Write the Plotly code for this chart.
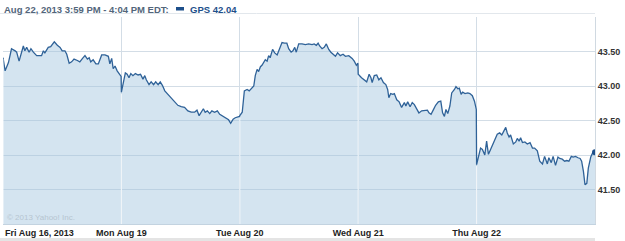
import plotly.graph_objects as go

# ---------------- data ----------------
day_labels = ["Fri Aug 16, 2013", "Mon Aug 19", "Tue Aug 20", "Wed Aug 21", "Thu Aug 22"]
session_minutes = 390
y_ticks = [41.5, 42.0, 42.5, 43.0, 43.5]
y_tick_labels = ["41.50", "42.00", "42.50", "43.00", "43.50"]
header_text = "Aug 22, 2013 3:59 PM - 4:04 PM EDT:"
series_label = "GPS 42.04"
copyright_text = "© 2013 Yahoo! Inc."

fri_minutes = [0, 7, 18, 28, 40, 45, 53, 67, 72, 78, 86, 92, 100, 111, 127, 133, 138, 149, 157, 169,
               179, 188, 195, 204, 210, 218, 226, 234, 245, 253, 262, 270, 278, 284, 289, 297, 306, 314,
               325, 336, 347, 352, 358, 363, 369, 376, 389]
fri_prices = [43.41, 43.22, 43.34, 43.54, 43.51, 43.49, 43.36, 43.58, 43.51, 43.56, 43.49, 43.54, 43.49,
              43.44, 43.44, 43.51, 43.48, 43.56, 43.57, 43.64, 43.59, 43.56, 43.51, 43.51, 43.46, 43.33,
              43.35, 43.39, 43.37, 43.35, 43.40, 43.44, 43.39, 43.41, 43.35, 43.38, 43.32, 43.32, 43.45,
              43.45, 43.43, 43.32, 43.40, 43.25, 43.29, 43.22, 43.14]

mon_minutes = [0, 13, 19, 25, 31, 38, 46, 55, 63, 71, 77, 82, 91, 98, 106, 113, 121, 128, 135, 143, 153,
               164, 176, 186, 197, 208, 219, 230, 241, 249, 256, 263, 270, 276, 283, 291, 298, 307, 316,
               324, 335, 346, 353, 360, 368, 375, 384, 389]
mon_prices = [42.91, 43.19, 43.17, 43.12, 43.18, 43.15, 43.18, 43.16, 43.17, 43.10, 43.15, 43.09, 43.02,
              43.06, 43.02, 43.06, 43.02, 43.06, 43.01, 42.93, 42.88, 42.83, 42.78, 42.72, 42.70, 42.69,
              42.64, 42.62, 42.62, 42.65, 42.57, 42.62, 42.67, 42.62, 42.64, 42.60, 42.64, 42.62, 42.64,
              42.59, 42.56, 42.54, 42.51, 42.46, 42.52, 42.54, 42.55, 42.56]

tue_minutes = [0, 8, 15, 24, 31, 40, 46, 51, 57, 62, 68, 73, 79, 84, 90, 95, 100, 108, 115, 123, 130, 139,
               147, 155, 161, 169, 175, 181, 186, 194, 205, 216, 227, 238, 245, 252, 258, 263, 271, 278,
               285, 293, 300, 309, 315, 322, 331, 340, 348, 359, 370, 377, 384, 389]
tue_prices = [42.57, 42.62, 42.93, 42.95, 42.93, 42.98, 43.00, 43.15, 43.24, 43.21, 43.28, 43.30, 43.34,
              43.38, 43.36, 43.44, 43.41, 43.53, 43.48, 43.45, 43.53, 43.63, 43.62, 43.62, 43.54, 43.49,
              43.51, 43.56, 43.49, 43.61, 43.61, 43.60, 43.61, 43.60, 43.61, 43.59, 43.62, 43.58, 43.54,
              43.56, 43.61, 43.53, 43.49, 43.46, 43.43, 43.48, 43.44, 43.46, 43.43, 43.44, 43.40, 43.36,
              43.30, 43.33]

wed_minutes = [0, 11, 20, 28, 36, 42, 46, 53, 61, 68, 75, 83, 91, 97, 101, 107, 114, 119, 127, 135, 143,
               152, 157, 163, 171, 178, 185, 193, 200, 209, 220, 228, 233, 240, 247, 255, 264, 272, 278,
               284, 289, 295, 302, 308, 317, 322, 328, 333, 339, 344, 352, 361, 368, 376, 383, 389]
wed_prices = [43.17, 43.12, 43.09, 43.06, 43.17, 43.12, 43.05, 43.15, 43.16, 43.09, 43.12, 43.05, 43.02,
              42.95, 42.83, 42.89, 42.88, 42.89, 42.80, 42.77, 42.69, 42.76, 42.71, 42.77, 42.70, 42.76,
              42.73, 42.66, 42.61, 42.64, 42.64, 42.65, 42.61, 42.59, 42.65, 42.72, 42.77, 42.78, 42.61,
              42.56, 42.66, 42.60, 42.71, 42.90, 42.95, 42.99, 42.96, 42.97, 42.88, 42.91, 42.89, 42.90,
              42.89, 42.86, 42.78, 42.66]

thu_minutes = [0, 13, 19, 27, 33, 39, 46, 57, 68, 76, 83, 90, 96, 101, 107, 112, 121, 129, 134, 140, 145,
               151, 159, 167, 176, 184, 191, 200, 208, 217, 224, 233, 238, 246, 252, 260, 268, 274, 282,
               290, 297, 304, 312, 318, 326, 334, 341, 346, 352, 357, 363, 368, 376, 382, 387, 390]
thu_prices = [41.86, 42.10, 42.08, 42.00, 42.20, 42.01, 42.08, 42.18, 42.30, 42.32, 42.29, 42.35, 42.40,
              42.32, 42.26, 42.29, 42.16, 42.19, 42.24, 42.20, 42.25, 42.18, 42.19, 42.16, 42.18, 42.10,
              42.10, 42.06, 41.91, 41.87, 41.98, 41.87, 41.96, 41.89, 41.98, 41.85, 41.97, 41.95, 41.94,
              41.91, 41.92, 41.91, 41.98, 41.97, 41.98, 41.96, 41.95, 41.91, 41.76, 41.57, 41.59, 41.81,
              41.97, 42.03, 42.04, 42.04]

# ---------------- build ----------------
days = [(fri_minutes, fri_prices), (mon_minutes, mon_prices), (tue_minutes, tue_prices),
        (wed_minutes, wed_prices), (thu_minutes, thu_prices)]
xs, ys = [], []
for i, (mins, prices) in enumerate(days):
    xs += [i * session_minutes + m for m in mins]
    ys += list(prices)

n_days = len(day_labels)
x_max = n_days * session_minutes
y_min, y_max = 41.0, 44.0

# plot-area pixel geometry
W, H = 625, 241
ml, mr, mt, mb = 3, 30, 17, 17
pw, ph = W - ml - mr, H - mt - mb


def px_x(p):
    return (p - ml) / pw


def px_y(p):
    return (H - mb - p) / ph


LINE = "#2f6298"
fig = go.Figure()
fig.add_trace(go.Scatter(
    x=xs, y=ys, mode="lines", fill="tozeroy",
    fillcolor="rgba(160,196,222,0.45)",
    line=dict(color=LINE, width=1.3),
    hoverinfo="skip", showlegend=False,
))
fig.add_trace(go.Scatter(
    x=[xs[-1]], y=[ys[-1]], mode="markers",
    marker=dict(color="#1d4f8a", size=6, symbol="circle"),
    hoverinfo="skip", showlegend=False,
))

shapes = []
# whitish day separators inside the filled area
for i in range(n_days):
    xb = i * session_minutes
    prev_val = days[i - 1][1][-1] if i > 0 else days[0][1][0]
    top = min(prev_val, days[i][1][0]) - 0.02
    shapes.append(dict(type="line", xref="x", yref="y", x0=xb, x1=xb, y0=y_min, y1=top,
                       line=dict(color="rgba(255,255,255,0.85)", width=1), layer="above"))
# header separator line
shapes.append(dict(type="line", xref="paper", yref="paper", x0=px_x(0), x1=px_x(595),
                   y0=px_y(13.5), y1=px_y(13.5), line=dict(color="#e2e7ec", width=1)))
# legend swatch
shapes.append(dict(type="rect", xref="paper", yref="paper", x0=px_x(176), x1=px_x(184),
                   y0=px_y(10.5), y1=px_y(7), fillcolor="#1d4f8a", line=dict(width=0)))
# bottom grey strip
shapes.append(dict(type="rect", xref="paper", yref="paper", x0=px_x(0), x1=px_x(595),
                   y0=px_y(241), y1=px_y(238), fillcolor="#e4e4e4", line=dict(width=0)))

bold = dict(family="Liberation Sans, Arial, sans-serif", size=9, weight="bold")

annotations = [
    dict(xref="paper", yref="paper", x=px_x(2), y=px_y(9), xanchor="left", yanchor="middle",
         text=header_text, showarrow=False, font=dict(bold, size=9.5, color="#52657a")),
    dict(xref="paper", yref="paper", x=px_x(188), y=px_y(9), xanchor="left", yanchor="middle",
         text=series_label, showarrow=False, font=dict(bold, size=9.5, color="#1d4f8a")),
    dict(xref="x", yref="paper", x=0, y=px_y(233), xanchor="left", yanchor="middle", xshift=0,
         text=day_labels[0], showarrow=False, font=dict(bold, color="#222222")),
    dict(xref="paper", yref="paper", x=px_x(5), y=px_y(217), xanchor="left", yanchor="middle",
         text=copyright_text, showarrow=False,
         font=dict(family="Liberation Sans, Arial, sans-serif", size=8, color="#b6c4d0")),
]

fig.update_layout(
    width=W, height=H,
    margin=dict(l=ml, r=mr, t=mt, b=mb),
    paper_bgcolor="white", plot_bgcolor="white",
    shapes=shapes, annotations=annotations,
    xaxis=dict(range=[0, x_max], tickvals=[i * session_minutes for i in range(n_days)],
               ticktext=[""] + day_labels[1:], showgrid=True, gridcolor="#d3dde6", gridwidth=1,
               zeroline=False, showline=True, linecolor="#c3d3e0", linewidth=1, ticks="",
               tickfont=dict(bold, color="#222222"), fixedrange=True),
    yaxis=dict(range=[y_min, y_max], side="right", tickvals=y_ticks, ticktext=y_tick_labels,
               showgrid=True, gridcolor="#d3dde6", gridwidth=1, zeroline=False,
               showline=True, linecolor="#d0d9e1", linewidth=1, ticks="",
               tickfont=dict(bold, color="#333333"), fixedrange=True),
)

fig.write_html("out.html")
